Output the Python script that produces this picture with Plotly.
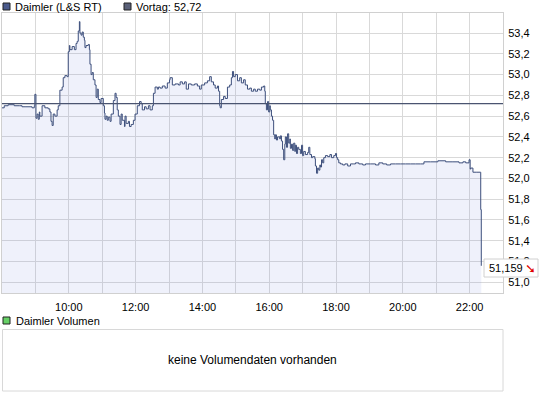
import pandas as pd
import plotly.graph_objects as go

# ---- data ----
# minutes after 08:00 and L&S RT price of Daimler
minutes = [0, 4, 11, 22, 32, 36, 43, 54, 58, 59, 61, 63, 65, 67, 68, 72, 77, 83, 86, 88,
           90, 92, 95, 99, 101, 104, 108, 110, 113, 117, 119, 121, 122, 126, 130, 133, 135, 137, 139, 140,
           142, 144, 146, 148, 149, 151, 155, 157, 158, 160, 162, 164, 167, 169, 171, 173, 176, 178, 182, 184,
           185, 187, 189, 191, 194, 196, 200, 203, 205, 207, 209, 212, 214, 216, 220, 221, 223, 227, 229, 232,
           236, 239, 243, 247, 250, 252, 256, 259, 263, 266, 270, 272, 275, 279, 281, 284, 288, 293, 297, 301,
           302, 306, 311, 317, 320, 324, 328, 331, 335, 340, 346, 351, 355, 358, 364, 369, 373, 376, 380, 383,
           387, 389, 391, 392, 394, 398, 401, 405, 409, 412, 414, 416, 419, 423, 427, 430, 434, 437, 441, 445,
           448, 452, 455, 459, 463, 466, 470, 472, 473, 475, 477, 479, 481, 482, 484, 486, 488, 490, 491, 493,
           495, 499, 500, 502, 504, 506, 508, 509, 511, 513, 515, 517, 518, 520, 522, 524, 526, 527, 529, 531,
           533, 536, 538, 540, 542, 545, 549, 551, 553, 556, 558, 562, 563, 565, 567, 569, 571, 572, 574, 576,
           578, 581, 585, 589, 592, 596, 599, 601, 603, 605, 608, 612, 616, 621, 626, 632, 635, 641, 648, 653,
           662, 671, 677, 684, 691, 698, 707, 716, 725, 734, 743, 752, 758, 770, 783, 797, 810, 821, 828, 833,
           839, 841, 842, 846, 853, 859, 860, 861]
prices = [52.68, 52.70, 52.71, 52.70, 52.70, 52.69, 52.69, 52.68, 52.70, 52.81, 52.58, 52.62, 52.57, 52.64, 52.60, 52.70, 52.68, 52.67, 52.64, 52.55,
          52.51, 52.62, 52.60, 52.66, 52.70, 52.85, 52.88, 52.97, 52.99, 52.98, 53.22, 53.28, 53.24, 53.27, 53.24, 53.30, 53.32, 53.42, 53.51, 53.40,
          53.38, 53.41, 53.36, 53.33, 53.26, 53.28, 53.29, 53.24, 53.10, 53.00, 53.02, 52.95, 52.90, 52.78, 52.86, 52.76, 52.73, 52.77, 52.70, 52.63,
          52.57, 52.60, 52.56, 52.59, 52.55, 52.62, 52.75, 52.82, 52.78, 52.66, 52.60, 52.52, 52.62, 52.56, 52.50, 52.60, 52.53, 52.55, 52.50, 52.52,
          52.56, 52.62, 52.70, 52.74, 52.72, 52.66, 52.69, 52.67, 52.70, 52.66, 52.70, 52.82, 52.88, 52.86, 52.88, 52.87, 52.89, 52.87, 52.92, 52.95,
          52.97, 52.90, 52.91, 52.90, 52.93, 52.91, 52.93, 52.86, 52.91, 52.90, 52.91, 52.89, 52.86, 52.90, 52.92, 52.94, 52.98, 52.93, 52.90, 52.87,
          52.89, 52.84, 52.70, 52.68, 52.76, 52.79, 52.77, 52.88, 52.90, 52.97, 53.03, 52.98, 53.00, 52.94, 52.97, 52.92, 52.95, 52.90, 52.86, 52.87,
          52.84, 52.86, 52.84, 52.86, 52.85, 52.88, 52.89, 52.84, 52.72, 52.66, 52.74, 52.64, 52.70, 52.66, 52.60, 52.56, 52.42, 52.38, 52.42, 52.37,
          52.40, 52.38, 52.41, 52.36, 52.28, 52.18, 52.33, 52.40, 52.30, 52.43, 52.34, 52.38, 52.29, 52.33, 52.27, 52.34, 52.26, 52.32, 52.24, 52.30,
          52.28, 52.24, 52.32, 52.22, 52.26, 52.23, 52.25, 52.30, 52.23, 52.20, 52.21, 52.19, 52.12, 52.05, 52.10, 52.08, 52.13, 52.11, 52.18, 52.15,
          52.20, 52.22, 52.21, 52.23, 52.20, 52.22, 52.24, 52.20, 52.18, 52.15, 52.14, 52.13, 52.14, 52.12, 52.14, 52.14, 52.15, 52.14, 52.13, 52.14,
          52.14, 52.13, 52.15, 52.14, 52.13, 52.14, 52.14, 52.14, 52.14, 52.14, 52.14, 52.14, 52.16, 52.16, 52.17, 52.16, 52.16, 52.15, 52.16, 52.15,
          52.18, 52.09, 52.10, 52.06, 52.06, 52.06, 51.70, 51.159]
prev_close = 52.72
last_price = 51.159
series_name = "Daimler (L&S RT)"
prev_label = "Vortag: 52,72"
volume_label = "Daimler Volumen"
volume_message = "keine Volumendaten vorhanden"
y_ticks = [51.0, 51.2, 51.4, 51.6, 51.8, 52.0, 52.2, 52.4, 52.6, 52.8, 53.0, 53.2, 53.4]
x_hours = list(range(8, 24))
x_labelled = [10, 12, 14, 16, 18, 20, 22]

base = pd.Timestamp("2024-01-01 08:00")
times = [base + pd.Timedelta(minutes=m) for m in minutes]
hour_vals = [pd.Timestamp("2024-01-01") + pd.Timedelta(hours=h) for h in x_hours]
hour_text = [f"{h}:00" if h in x_labelled else "" for h in x_hours]

W, H = 545, 398
def px(x):
    return x / W
def py(y):
    return 1 - y / H

FONT = "Liberation Sans, Arial, sans-serif"
LINE = "#3d4f7c"
FILL = "rgba(110,130,215,0.11)"
GRID = "#d9d9d9"
FRAME = "#d0d0d0"

fig = go.Figure()
fig.add_trace(go.Scatter(
    x=times, y=prices, mode="lines", line=dict(color=LINE, width=1, shape="hv"),
    fill="tozeroy", fillcolor=FILL, hoverinfo="skip", showlegend=False,
))

shapes = [
    # previous close line
    dict(type="line", xref="paper", yref="y", x0=px(2), x1=px(503), y0=prev_close, y1=prev_close,
         line=dict(color="#4a5470", width=1.2)),
    # legend squares
    dict(type="rect", xref="paper", yref="paper", x0=px(3), x1=px(10), y0=py(10), y1=py(3),
         fillcolor="#4a5a8c", line=dict(color="#222", width=1)),
    dict(type="rect", xref="paper", yref="paper", x0=px(124), x1=px(131), y0=py(10), y1=py(3),
         fillcolor="#5a6078", line=dict(color="#222", width=1)),
    dict(type="rect", xref="paper", yref="paper", x0=px(3), x1=px(10), y0=py(324), y1=py(317),
         fillcolor="#66d066", line=dict(color="#222", width=1)),
    # volume panel frame
    dict(type="rect", xref="paper", yref="paper", x0=px(2.5), x1=px(503), y0=py(391), y1=py(329.5),
         fillcolor="rgba(0,0,0,0)", line=dict(color="#d8d8d8", width=1)),
    # last price box
    dict(type="rect", xref="paper", yref="paper", x0=px(484), x1=px(538), y0=py(277), y1=py(259),
         fillcolor="white", line=dict(color="#d0d0d0", width=1), layer="above"),
]

annotations = [
    dict(text=series_name, xref="paper", yref="paper", x=px(13), y=py(7), xanchor="left", yanchor="middle",
         showarrow=False, font=dict(family=FONT, size=11, color="#000")),
    dict(text=prev_label, xref="paper", yref="paper", x=px(134), y=py(7), xanchor="left", yanchor="middle",
         showarrow=False, font=dict(family=FONT, size=11, color="#000")),
    dict(text=volume_label, xref="paper", yref="paper", x=px(14), y=py(321), xanchor="left", yanchor="middle",
         showarrow=False, font=dict(family=FONT, size=11, color="#000")),
    dict(text=volume_message, xref="paper", yref="paper", x=px(252), y=py(360), xanchor="center", yanchor="middle",
         showarrow=False, font=dict(family=FONT, size=12, color="#000")),
    dict(text=f"{last_price:.3f}".replace(".", ","), xref="paper", yref="paper", x=px(487), y=py(268),
         xanchor="left", yanchor="middle", showarrow=False, font=dict(family=FONT, size=11, color="#000")),
    dict(text="<b>➘</b>", xref="paper", yref="paper", x=px(530), y=py(268), xanchor="center", yanchor="middle",
         showarrow=False, font=dict(family="DejaVu Sans", size=13, color="#e00000")),
]

fig.update_layout(
    width=W, height=H, margin=dict(l=0, r=0, t=0, b=0),
    paper_bgcolor="white", plot_bgcolor="white",
    separators=",.",
    font=dict(family=FONT, size=11, color="#000"),
    shapes=shapes, annotations=annotations, showlegend=False,
    xaxis=dict(
        domain=[px(2), px(503)],
        range=[base, base + pd.Timedelta(hours=15)],
        tickmode="array", tickvals=hour_vals, ticktext=hour_text,
        showgrid=True, gridcolor=GRID, gridwidth=1,
        showline=True, linecolor=FRAME, linewidth=1, mirror=True,
        ticks="", ticklabelstandoff=4, zeroline=False,
    ),
    yaxis=dict(
        domain=[py(293), py(13)],
        range=[50.897, 53.593], side="right",
        tickmode="array", tickvals=y_ticks, tickformat=".1f",
        showgrid=True, gridcolor=GRID, gridwidth=1,
        showline=True, linecolor=FRAME, linewidth=1, mirror=True,
        ticks="", ticklabelstandoff=2, zeroline=False,
    ),
)

fig.write_html("out.html")
